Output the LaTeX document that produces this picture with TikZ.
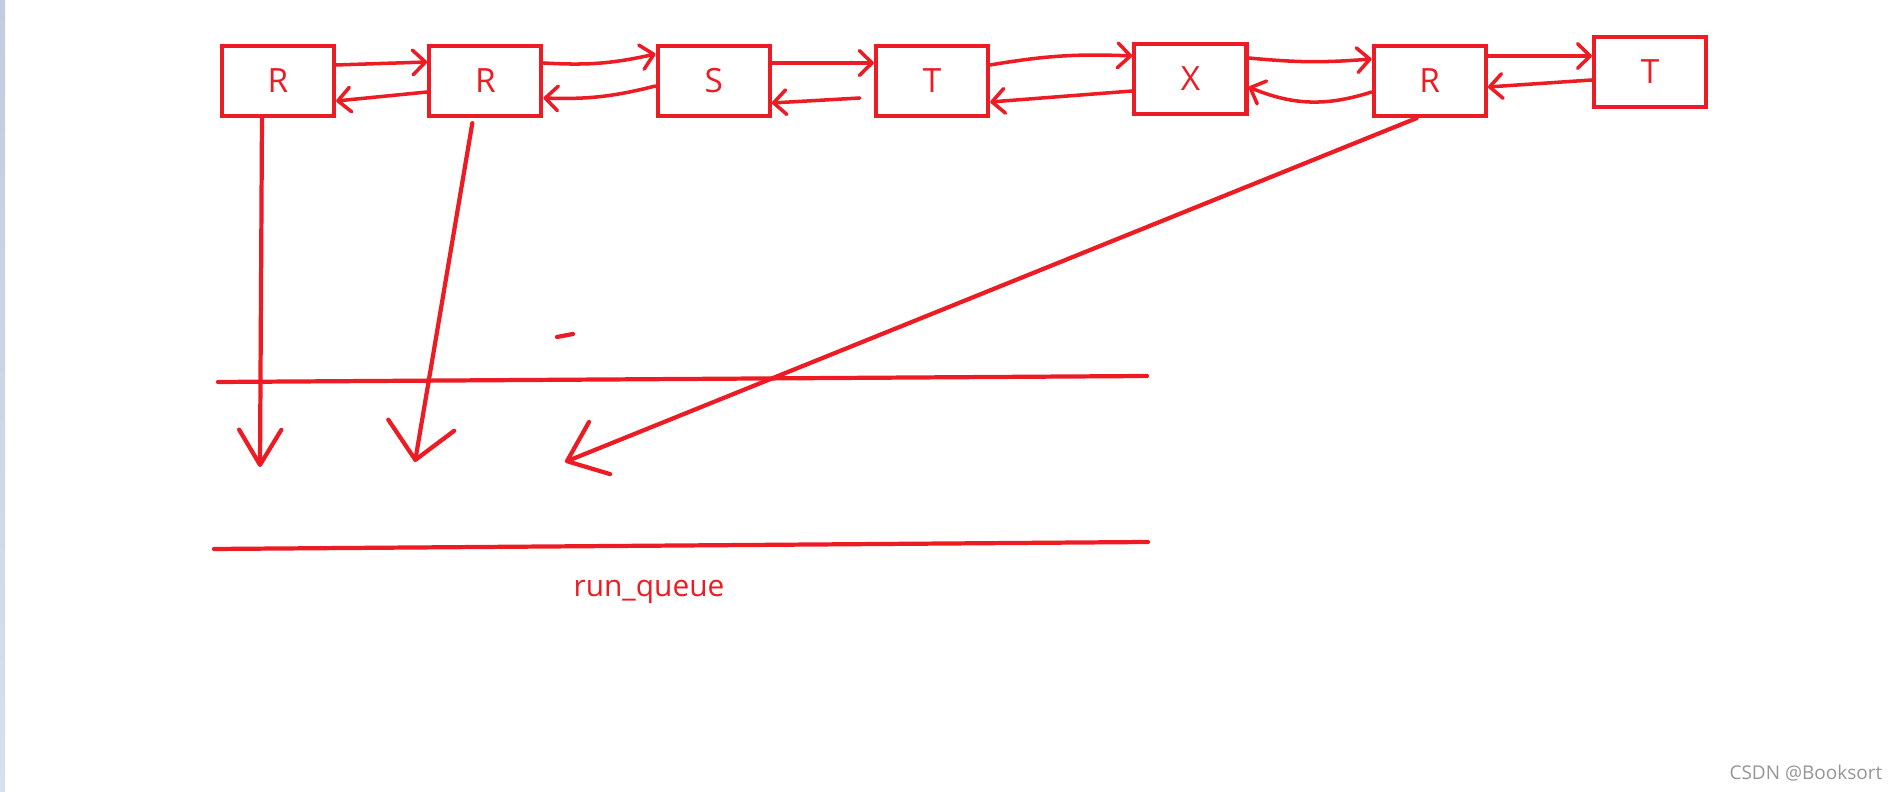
\documentclass[tikz,border=0pt]{standalone}
\usepackage{fontspec}
\setmainfont{Open Sans}
\usetikzlibrary{positioning, arrows.meta}
\definecolor{pred}{RGB}{237,28,36}
\definecolor{stripTop}{RGB}{195,203,222}
\definecolor{stripBot}{RGB}{216,224,238}
\definecolor{markgray}{RGB}{150,150,150}
\tikzset{
  task/.style={rectangle, draw=pred, line width=1.2pt, minimum width=1.12cm, minimum height=0.70cm, inner sep=0pt, text=pred, font=\fontsize{9.5}{11}\selectfont},
  link/.style={draw=pred, line width=1pt, line cap=round, -{Straight Barb[round, length=3.6pt, width=7pt]}},
  enq/.style={draw=pred, line width=1.2pt, line cap=round, -{Straight Barb[round, length=10pt, width=#1]}},
  enq/.default=12pt,
  queue/.style={draw=pred, line width=1.2pt, line cap=round}
}

\begin{document}
\begin{tikzpicture}[x=0.01cm, y=-0.01cm]
  \useasboundingbox (0,0) rectangle (1899,792);
  \fill[white] (0,0) rectangle (1899,792);
  \shade[top color=stripTop, bottom color=stripBot] (0,0) rectangle (5,792);

  % task list
  \node (r1) [task] at (278,81) {R};
  \node (r2) [task, right=0.91cm of r1] {R};
  \node (s1) [task, right=1.12cm of r2] {S};
  \node (t1) [task, right=1.02cm of s1] {T};
  \node (x1) [task, right=1.42cm of t1, yshift=0.02cm] {X};
  \node (r3) [task, right=1.23cm of x1, yshift=-0.02cm] {R};
  \node (t2) [task, right=1.04cm of r3, yshift=0.09cm] {T};

  % next / prev links
  \draw [link] ([yshift=0.16cm]r1.east) -- ([yshift=0.19cm]r2.west);
  \draw [link] ([yshift=-0.11cm]r2.west) -- ([yshift=-0.20cm]r1.east);
  \draw [link] ([yshift=0.18cm]r2.east) to[bend right=8] ([yshift=0.27cm]s1.west);
  \draw [link] ([yshift=-0.05cm]s1.west) to[bend left=8] ([yshift=-0.17cm]r2.east);
  \draw [link] ([yshift=0.18cm]s1.east) -- ([yshift=0.18cm]t1.west);
  \draw [link] ([xshift=-0.14cm, yshift=-0.17cm]t1.west) -- ([yshift=-0.22cm]s1.east);
  \draw [link] ([yshift=0.16cm]t1.east) to[bend left=6] ([yshift=0.23cm]x1.west);
  \draw [link] ([yshift=-0.12cm]x1.west) -- ([yshift=-0.21cm]t1.east);
  \draw [link] ([yshift=0.21cm]x1.east) to[bend right=5] ([yshift=0.22cm]r3.west);
  \draw [link] ([yshift=-0.11cm]r3.west) to[bend left=20] ([yshift=-0.08cm]x1.east);
  \draw [link] ([yshift=0.25cm]r3.east) -- ([yshift=0.16cm]t2.west);
  \draw [link] ([yshift=-0.08cm]t2.west) -- ([yshift=-0.06cm]r3.east);

  % run queue
  \draw [queue] (218,382) -- (1147,376);
  \draw [queue] (214,549) -- (1148,542);
  \draw [queue] (557,337) -- (573,334);
  \coordinate (q1) at (260,467);
  \coordinate (q2) at (415,462);
  \coordinate (q3) at (565,462);
  \draw [enq] ([xshift=-0.16cm]r1.south) -- (q1);
  \draw [enq=19pt] ([xshift=-0.13cm, yshift=-0.05cm]r2.south) -- (q2);
  \draw [enq=16pt] ([xshift=-0.13cm]r3.south) -- (q3);

  \node (rq) at (649,592) [text=pred, font=\fontsize{8.5}{10}\selectfont] {run\_queue};
  \node (mark) [anchor=east, inner sep=0pt, text=markgray, font=\fontsize{5.4}{6}\selectfont] at (1883,773) {CSDN @Booksort};
\end{tikzpicture}
\end{document}
